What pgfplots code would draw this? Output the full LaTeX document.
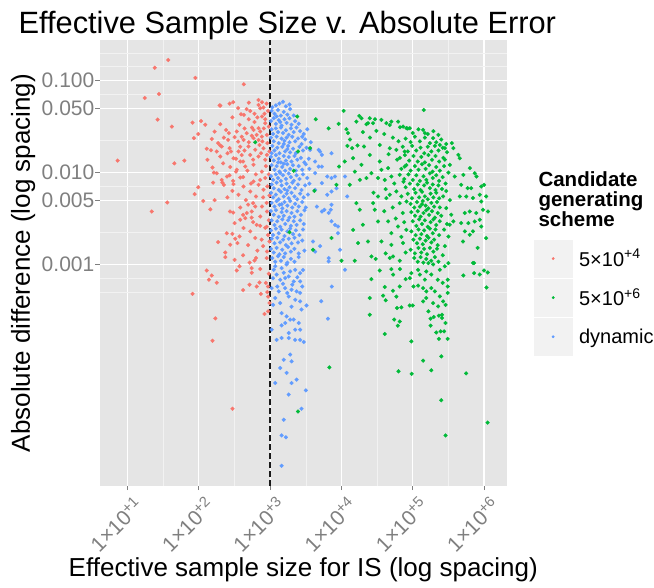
\documentclass[border=0pt]{standalone}
\usepackage{fontspec}
\setmainfont{Liberation Sans}
\usepackage{pgfplots}
\pgfplotsset{compat=1.18}
\definecolor{gred}{HTML}{F8766D}
\definecolor{ggreen}{HTML}{00BA38}
\definecolor{gblue}{HTML}{619CFF}
\definecolor{grey90}{HTML}{E5E5E5}
\definecolor{grey95}{HTML}{F2F2F2}
\definecolor{grey50}{HTML}{7F7F7F}
\begin{document}
\begin{tikzpicture}
\useasboundingbox (0pt,0pt) rectangle (654pt,587pt);
\begin{axis}[
  at={(100pt,101.3pt)}, anchor=south west,
  scale only axis, width=406.7pt, height=445.7pt,
  xmin=0.612, xmax=6.318, ymin=-5.407, ymax=-0.558,
  axis background/.style={fill=grey90},
  axis line style={draw=none},
  tick align=outside, tick pos=left,
  major tick length=4.5pt, minor tick length=0pt,
  tick style={grey50, line width=0.9pt},
  grid=both,
  major grid style={white, line width=1.1pt},
  minor grid style={grey95, line width=0.55pt},
  xtick={1,2,3,4,5,6},
  xticklabels={1×10\textsuperscript{+1},1×10\textsuperscript{+2},1×10\textsuperscript{+3},1×10\textsuperscript{+4},1×10\textsuperscript{+5},1×10\textsuperscript{+6}},
  minor xtick={1.5,2.5,3.5,4.5,5.5},
  ytick={-3,-2.30103,-2,-1.30103,-1},
  yticklabels={0.001,0.005,0.010,0.050,0.100},
  minor ytick={-0.699,-0.849,-1.1505,-1.6505,-2.1505,-2.6505,-3.1505,-3.301},
  xticklabel style={xshift=5pt, yshift=-3pt, rotate=45, anchor=north east, font=\fontsize{21}{21}\selectfont, text=grey50, inner sep=1pt},
  yticklabel style={anchor=east, font=\fontsize{21}{21}\selectfont, text=grey50, inner sep=1pt},
  legend style={at={(1.0679,0.5513)}, anchor=north west, draw=none, fill=none, inner sep=0pt, outer sep=0pt,
    row sep=2pt, column sep=7pt, font=\fontsize{20}{20}\selectfont, nodes={inner sep=0pt}},
  legend cell align=left,
  legend image code/.code={%
    \fill[grey95] (0pt,-18.35pt) rectangle (37.4pt,18.35pt);
    \draw plot coordinates {(18.7pt,0pt)};
  },
]
% 5x10^4 (red)
\addplot[only marks, mark=*, mark size=1.9pt, gred, mark options={line width=0.3pt}, forget plot] coordinates {
(0.86,-1.87) (1.24,-1.19) (1.38,-0.86) (1.44,-1.145) (1.57,-0.775) (1.42,-1.424) (1.62,-1.5) (1.655,-1.9) (1.795,-1.87) (1.337,-2.424) (1.556,-2.326) (1.95,-0.97) (1.91,-1.457) (2.03,-1.44) (2.09,-1.48) (1.99,-1.58) (1.93,-1.626) (2.63,-1.04) (2.29,-1.27) (2.43,-1.25) (2.48,-1.235) (2.59,-1.365) (2.63,-1.373) (2.57,-1.48) (2.22,-1.554) (2.38,-1.536) (2.42,-1.572) (2.50,-1.615) (2.55,-1.663) (2.60,-1.61) (2.18,-1.634) (2.27,-1.68) (2.30,-1.706) (2.41,-1.645) (2.43,-1.735) (2.11,-1.742) (2.17,-1.757) (2.25,-1.772) (2.40,-1.79) (2.45,-1.772) (2.60,-1.81) (2.12,-1.862) (2.19,-1.946) (2.21,-2.0) (2.32,-2.08) (2.33,-2.11) (2.20,-2.11) (2.48,-2.09) (2.43,-2.03) (2.58,-2.054) (2.58,-1.88) (2.62,-1.88) (2.52,-1.99)
(2.435,-2.424) (2.48,-2.435) (2.16,-2.40) (2.06,-2.31) (1.94,-2.235) (1.99,-2.16) (2.22,-2.30)
(2.39,-2.66) (2.47,-2.667) (2.27,-2.757) (2.37,-2.87) (2.37,-2.92) (2.54,-2.767) (2.57,-2.695) (2.57,-3.02) (2.71,-2.98) (2.80,-2.93) (2.76,-2.54) (2.81,-2.57) (2.74,-2.424) (2.67,-2.44) (2.69,-2.35) (2.76,-2.333) (1.91,-3.32) (2.62,-3.28) (2.71,-3.22) (2.88,-2.73) (2.90,-2.80) (2.95,-2.59)
(2.11,-3.065) (2.18,-3.12) (2.14,-3.166) (2.25,-3.20) (2.23,-3.587) (2.19,-3.83) (2.47,-4.57) (2.53,-3.065) (2.78,-2.957) (2.74,-3.09) (2.74,-3.04) (2.85,-3.196) (2.81,-3.24) (2.87,-3.32) (2.94,-3.20) (2.97,-3.24) (2.92,-3.54) (2.97,-3.51) (2.97,-3.35)
(2.836,-1.21) (2.884,-1.235) (2.30,-1.272) (2.836,-1.264) (2.67,-1.31) (2.72,-1.33) (2.86,-1.30) (2.906,-1.293) (2.884,-1.39) (2.30,-1.474) (2.744,-1.511) (2.766,-1.536) (2.836,-1.517) (2.86,-1.554) (2.93,-1.463) (2.53,-1.554) (2.67,-1.572) (2.81,-1.59) (2.884,-1.609) (2.954,-1.59) (2.766,-1.626) (2.836,-1.645) (2.32,-1.717) (2.626,-1.645) (2.555,-1.772) (2.696,-1.717) (2.79,-1.753) (2.906,-1.735) (2.954,-1.808) (2.30,-1.826) (2.485,-1.844) (2.836,-1.826) (2.72,-1.808) (2.25,-2.007) (2.393,-2.043) (2.53,-1.97) (2.65,-1.935) (2.766,-1.916) (2.884,-1.99) (2.93,-2.06) (2.35,-2.134) (2.485,-2.126) (2.626,-2.152) (2.766,-2.098) (2.836,-2.134) (2.906,-2.188) (2.555,-2.242) (2.72,-2.206) (2.79,-2.37) (2.884,-2.37) (2.58,-2.514) (2.65,-2.496) (2.86,-2.478) (2.954,-2.424) (2.51,-2.72) (2.626,-2.604) (2.72,-2.64) (2.44,-2.786) (2.954,-2.859) (2.79,-2.713)
(2.95,-1.25) (2.97,-1.33) (2.93,-1.42) (2.98,-1.50) (2.96,-1.68) (2.99,-1.77) (2.94,-1.93) (2.98,-2.02) (2.96,-2.15) (2.99,-2.25) (2.95,-2.33) (2.98,-2.52) (2.93,-2.60) (2.97,-2.68) (2.99,-2.75) (2.95,-2.93) (2.98,-3.1) (2.96,-3.3) (2.99,-3.42)
(2.70,-1.42) (2.78,-1.45) (2.82,-1.40) (2.91,-1.52) (2.64,-1.52) (2.74,-1.60) (2.89,-1.66) (2.70,-1.67) (2.58,-1.72) (2.85,-1.70) (2.93,-1.86) (2.76,-1.86) (2.68,-1.98) (2.80,-2.02) (2.86,-2.08) (2.62,-2.05) (2.73,-2.12) (2.90,-2.27) (2.80,-2.26) (2.66,-2.30) (2.58,-2.38) (2.47,-2.20) (2.40,-2.27) (2.62,-2.46) (2.86,-2.58) (2.69,-2.79) (2.82,-2.85) (2.62,-2.90) (2.50,-2.95) (2.86,-3.05) (2.44,-1.94) (2.34,-1.90) (2.52,-1.85) (2.64,-1.76) (2.78,-1.36) (2.92,-1.36) (2.70,-1.24) (2.55,-1.30) (2.47,-1.40) (2.35,-1.62) (2.87,-1.79) (2.74,-2.49) (2.50,-2.55)
};
% dynamic (blue)
\addplot[only marks, mark=*, mark size=1.9pt, gblue, mark options={line width=0.3pt}, forget plot] coordinates {
(3.18,-1.23) (3.08,-1.27) (3.13,-1.25) (3.22,-1.28) (3.03,-1.29) (3.27,-1.26)
(3.02,-1.33) (3.06,-1.36) (3.11,-1.32) (3.15,-1.38) (3.19,-1.34) (3.24,-1.37) (3.28,-1.31) (3.09,-1.39) (3.33,-1.38)
(3.01,-1.44) (3.05,-1.41) (3.08,-1.47) (3.12,-1.43) (3.16,-1.49) (3.20,-1.42) (3.23,-1.46) (3.27,-1.41) (3.30,-1.48) (3.35,-1.44) (3.40,-1.47) (3.14,-1.45)
(3.02,-1.53) (3.04,-1.58) (3.08,-1.52) (3.11,-1.56) (3.15,-1.51) (3.18,-1.57) (3.22,-1.54) (3.26,-1.59) (3.29,-1.52) (3.33,-1.56) (3.37,-1.51) (3.42,-1.55) (3.47,-1.58) (3.52,-1.53)
(3.01,-1.62) (3.05,-1.66) (3.09,-1.61) (3.12,-1.68) (3.16,-1.63) (3.19,-1.69) (3.23,-1.62) (3.27,-1.67) (3.31,-1.61) (3.35,-1.66) (3.39,-1.63) (3.44,-1.69) (3.49,-1.64) (3.57,-1.67) (3.20,-1.655)
(3.03,-1.71) (3.06,-1.76) (3.10,-1.73) (3.13,-1.79) (3.17,-1.72) (3.21,-1.77) (3.25,-1.71) (3.28,-1.78) (3.32,-1.74) (3.36,-1.79) (3.41,-1.72) (3.46,-1.76) (3.51,-1.73) (3.02,-1.79) (3.24,-1.745)
(3.01,-1.83) (3.05,-1.87) (3.08,-1.81) (3.12,-1.85) (3.15,-1.89) (3.19,-1.82) (3.22,-1.87) (3.26,-1.83) (3.30,-1.88) (3.34,-1.82) (3.38,-1.86) (3.43,-1.84) (3.48,-1.89) (3.54,-1.85) (3.11,-1.89)
(3.02,-1.92) (3.06,-1.97) (3.09,-1.93) (3.13,-1.99) (3.17,-1.94) (3.21,-1.98) (3.24,-1.91) (3.28,-1.96) (3.32,-1.92) (3.36,-1.98) (3.40,-1.93) (3.45,-1.97) (3.50,-1.91) (3.55,-1.96) (3.19,-1.905)
(3.01,-2.04) (3.04,-2.08) (3.08,-2.02) (3.11,-2.06) (3.15,-2.09) (3.18,-2.03) (3.22,-2.07) (3.26,-2.01) (3.29,-2.05) (3.33,-2.09) (3.37,-2.03) (3.41,-2.07) (3.46,-2.02) (3.52,-2.06) (3.14,-2.005)
(3.02,-2.13) (3.05,-2.17) (3.09,-2.11) (3.12,-2.19) (3.16,-2.14) (3.20,-2.18) (3.23,-2.12) (3.27,-2.16) (3.31,-2.11) (3.35,-2.17) (3.39,-2.13) (3.44,-2.19) (3.49,-2.14) (3.55,-2.12) (3.24,-2.195)
(3.01,-2.22) (3.04,-2.27) (3.08,-2.24) (3.12,-2.29) (3.15,-2.21) (3.19,-2.26) (3.23,-2.23) (3.26,-2.28) (3.30,-2.22) (3.34,-2.26) (3.38,-2.29) (3.42,-2.23) (3.47,-2.27) (3.53,-2.24)
(3.02,-2.33) (3.06,-2.37) (3.09,-2.31) (3.13,-2.35) (3.17,-2.39) (3.20,-2.32) (3.24,-2.36) (3.28,-2.31) (3.31,-2.38) (3.35,-2.34) (3.40,-2.37) (3.45,-2.32) (3.50,-2.38) (3.16,-2.345)
(3.01,-2.42) (3.05,-2.46) (3.08,-2.41) (3.12,-2.48) (3.16,-2.43) (3.19,-2.47) (3.23,-2.42) (3.27,-2.49) (3.30,-2.44) (3.34,-2.48) (3.38,-2.42) (3.43,-2.46) (3.48,-2.41)
(3.02,-2.52) (3.06,-2.57) (3.10,-2.53) (3.14,-2.59) (3.17,-2.51) (3.21,-2.56) (3.25,-2.52) (3.29,-2.58) (3.33,-2.53) (3.37,-2.57) (3.42,-2.52) (3.47,-2.56)
(3.01,-2.63) (3.04,-2.68) (3.08,-2.61) (3.12,-2.66) (3.16,-2.62) (3.20,-2.69) (3.24,-2.64) (3.28,-2.61) (3.32,-2.67) (3.36,-2.63) (3.41,-2.68) (3.46,-2.62)
(3.02,-2.72) (3.06,-2.77) (3.10,-2.71) (3.14,-2.76) (3.18,-2.73) (3.22,-2.79) (3.26,-2.72) (3.30,-2.77) (3.34,-2.71) (3.39,-2.76) (3.45,-2.74)
(3.01,-2.83) (3.05,-2.87) (3.09,-2.82) (3.13,-2.89) (3.17,-2.84) (3.21,-2.88) (3.25,-2.81) (3.29,-2.86) (3.34,-2.83) (3.40,-2.88) (3.48,-2.85)
(3.03,-2.93) (3.07,-2.97) (3.11,-2.91) (3.15,-2.96) (3.19,-2.92) (3.24,-2.98) (3.29,-2.94) (3.34,-2.97) (3.40,-2.92)
(3.56,-1.753) (3.70,-1.772) (3.86,-1.79) (3.68,-1.935) (3.63,-2.007) (3.80,-2.043) (3.86,-2.06) (3.93,-2.17) (4.05,-2.043) (4.08,-2.26) (3.725,-2.424) (3.82,-2.44) (3.86,-2.53) (3.91,-2.57) (3.95,-2.66) (3.98,-2.84) (3.82,-2.967) (4.05,-3.058) (3.865,-3.24) (3.63,-2.188) (3.655,-2.37) (3.60,-2.75) (3.63,-2.86) (3.68,-1.753) (3.725,-1.808) (3.63,-1.88) (3.725,-1.935) (3.91,-2.043) (3.725,-2.115) (3.86,-2.206) (3.80,-2.242) (3.86,-2.35) (3.76,-2.405) (3.85,-2.405) (3.95,-2.587) (3.70,-2.80) (3.82,-2.93) (3.45,-1.61) (3.715,-3.40) (3.81,-3.59)
(3.05,-3.058) (3.09,-3.11) (3.16,-3.04) (3.23,-3.0) (3.28,-3.076) (3.35,-3.058) (3.42,-3.094) (3.14,-3.166) (3.21,-3.148) (3.33,-3.185) (3.42,-3.185) (3.02,-3.257) (3.12,-3.293) (3.21,-3.257) (3.30,-3.275) (3.37,-3.293) (3.42,-3.31) (3.07,-3.365) (3.14,-3.42) (3.26,-3.348) (3.35,-3.384) (3.42,-3.402) (3.51,-3.446) (3.16,-3.53) (3.23,-3.565) (3.28,-3.60) (3.21,-3.637) (3.33,-3.60) (3.40,-3.637) (3.44,-3.49) (3.02,-3.71) (3.16,-3.663) (3.26,-3.746) (3.35,-3.71) (3.42,-3.71) (3.09,-3.82) (3.16,-3.80) (3.26,-3.80) (3.35,-3.82) (3.42,-3.82) (3.47,-3.844) (3.28,-3.98) (3.19,-4.036) (3.30,-4.054) (3.14,-4.126) (3.23,-4.18) (3.07,-4.29) (3.30,-4.29) (3.37,-4.253) (3.26,-4.416) (3.50,-4.37) (3.44,-4.57) (3.19,-4.69) (3.16,-4.86) (3.22,-4.88) (3.16,-5.19)
(3.07,-3.02) (3.19,-3.09) (3.26,-3.13) (3.38,-3.14) (3.46,-3.06) (3.04,-3.15) (3.31,-3.22) (3.18,-3.21) (3.10,-3.24) (3.45,-3.24) (3.24,-3.31) (3.04,-3.44) (3.30,-3.46)
};
% 5x10^6 (green)
\addplot[only marks, mark=*, mark size=1.9pt, ggreen, mark options={line width=0.3pt}, forget plot] coordinates {
(2.79,-1.67) (3.38,-1.39) (3.56,-1.735) (3.39,-1.77) (3.33,-1.98) (3.62,-2.2) (3.27,-2.65) (3.60,-2.84) (3.39,-4.6) (3.83,-4.12)
(3.64,-1.42) (3.82,-1.52) (3.96,-1.47) (4.03,-1.33) (4.07,-1.528) (4.09,-1.57) (4.25,-1.384) (4.21,-1.446) (4.28,-1.409) (4.35,-1.474) (4.397,-1.409) (4.443,-1.463) (4.49,-1.547) (4.56,-1.427) (4.63,-1.463) (4.677,-1.482) (4.794,-1.446) (4.864,-1.50) (4.911,-1.517) (4.47,-1.42) (4.70,-1.446) (4.82,-1.507) (4.373,-1.463)
(4.084,-1.71) (4.15,-1.735) (4.224,-1.706) (4.317,-1.717) (4.537,-1.70) (4.677,-1.735) (4.77,-1.753) (4.887,-1.772) (4.046,-1.88) (4.163,-1.844) (4.28,-1.916) (4.397,-1.808) (4.537,-1.88) (4.56,-1.97) (4.654,-1.952) (4.70,-2.043) (4.817,-2.025) (4.887,-1.935) (3.93,-2.134) (3.966,-1.935) (4.116,-2.134) (4.187,-1.99) (4.257,-2.08) (4.35,-2.06) (4.42,-2.007) (4.513,-2.06) (4.607,-2.08) (4.77,-2.206) (4.84,-2.26) (4.21,-2.333) (4.257,-2.405) (4.443,-2.333) (4.467,-2.405) (4.513,-2.26) (4.63,-2.278) (4.677,-2.242) (4.817,-2.333) (4.911,-2.315) (4.163,-2.623) (4.30,-2.568) (4.513,-2.532) (4.654,-2.532) (4.794,-2.587) (4.91,-2.623) (4.233,-2.767) (4.373,-2.75) (4.56,-2.75) (4.70,-2.786) (4.864,-2.767) (3.86,-2.713) (4.0,-2.96) (4.187,-2.96) (4.42,-2.913) (4.677,-2.93)
(4.60,-1.58) (4.72,-1.62) (4.80,-1.66) (4.66,-1.80) (4.78,-1.86) (4.74,-2.12) (4.87,-2.10) (4.62,-2.18) (4.72,-2.38) (4.86,-2.44) (4.60,-2.42) (4.76,-2.50) (4.88,-2.54) (4.70,-2.66) (4.84,-2.70) (4.62,-2.88) (4.90,-2.87) (4.82,-3.05) (4.90,-3.16) (4.45,-2.22) (4.40,-1.62) (4.30,-1.56) (4.12,-1.64)
(4.48,-2.94) (4.724,-2.913) (4.817,-2.96) (4.537,-3.065) (4.70,-3.05) (4.724,-3.11) (4.42,-3.16) (4.607,-3.245) (4.724,-3.286) (4.817,-3.24) (4.397,-3.365) (4.584,-3.34) (4.62,-3.39) (4.77,-3.35) (4.397,-3.547) (4.78,-3.474) (4.84,-3.467) (4.957,-3.446) (5.0,-3.446) (4.74,-3.60) (4.817,-3.62) (4.79,-3.666) (4.607,-3.757) (4.98,-3.837) (5.145,-4.047) (5.26,-4.152) (4.80,-4.163) (4.985,-4.19) (5.40,-4.0) (5.75,-4.185) (5.40,-4.478) (5.46,-4.86) (6.05,-4.72) (5.71,-3.12) (5.86,-3.094) (5.94,-3.11) (6.0,-3.065) (6.053,-3.087) (5.86,-2.985) (6.035,-3.25) (5.22,-3.51) (5.25,-3.59) (5.295,-3.572) (5.366,-3.557) (5.41,-3.547) (5.46,-3.637) (5.39,-3.728) (5.44,-3.728) (5.49,-3.81) (5.33,-3.74) (5.366,-3.81) (5.25,-3.666) (5.41,-3.583)
(4.96,-3.148) (4.98,-3.094) (5.075,-3.058) (5.10,-3.11) (5.17,-3.166) (5.01,-3.24) (5.075,-3.23) (5.146,-3.257) (5.19,-3.293) (5.26,-3.257) (5.31,-3.293) (5.38,-3.348) (5.426,-3.402) (5.19,-3.365) (5.146,-3.402) (5.286,-3.42) (5.356,-3.457) (5.46,-3.44) (5.49,-3.31) (5.49,-3.24) (5.49,-3.166) (5.42,-3.20) (5.35,-3.166) (5.26,-3.11) (5.19,-3.076) (5.38,-3.058) (5.45,-3.02) (5.50,-2.985) (5.286,-3.0) (5.22,-2.985)
(5.154,-1.319) (5.17,-1.572) (5.38,-1.70) (5.45,-1.735)
(4.93,-1.52) (5.00,-1.57) (5.08,-1.53) (5.146,-1.536) (5.21,-1.58) (5.29,-1.55) (5.36,-1.59) (4.958,-1.517)
(4.90,-1.63) (4.97,-1.67) (5.03,-1.61) (5.10,-1.66) (5.17,-1.62) (5.24,-1.68) (5.286,-1.626) (5.33,-1.67) (5.40,-1.64) (5.47,-1.69) (5.55,-1.68)
(4.86,-1.72) (4.93,-1.77) (4.99,-1.71) (5.05,-1.76) (5.11,-1.73) (5.16,-1.79) (5.21,-1.72) (5.26,-1.77) (5.31,-1.71) (5.36,-1.76) (5.42,-1.73) (5.48,-1.78) (5.57,-1.735)
(4.82,-1.84) (4.89,-1.81) (4.95,-1.87) (5.01,-1.82) (5.07,-1.88) (5.12,-1.83) (5.17,-1.89) (5.22,-1.81) (5.27,-1.86) (5.32,-1.82) (5.37,-1.88) (5.43,-1.84) (5.64,-1.808) (5.66,-1.844)
(4.84,-1.96) (4.91,-1.92) (4.97,-1.98) (5.03,-1.93) (5.08,-1.97) (5.13,-1.91) (5.18,-1.96) (5.23,-1.92) (5.28,-1.99) (5.33,-1.94) (5.38,-1.98) (5.44,-1.93) (5.52,-1.916) (5.80,-1.952)
(4.88,-2.07) (4.94,-2.02) (5.00,-2.08) (5.05,-2.03) (5.10,-2.09) (5.15,-2.04) (5.19,-2.08) (5.24,-2.01) (5.28,-2.06) (5.33,-2.03) (5.37,-2.09) (5.42,-2.05) (5.59,-2.043) (5.71,-2.025) (5.87,-2.007) (5.894,-2.043)
(4.90,-2.16) (4.96,-2.12) (5.02,-2.18) (5.07,-2.13) (5.11,-2.19) (5.16,-2.14) (5.20,-2.11) (5.24,-2.17) (5.28,-2.13) (5.32,-2.19) (5.36,-2.14) (5.41,-2.18) (5.46,-2.12) (5.68,-2.134) (5.77,-2.17) (5.82,-2.17) (5.96,-2.152) (6.0,-2.134)
(4.93,-2.23) (4.99,-2.28) (5.04,-2.22) (5.09,-2.27) (5.13,-2.21) (5.17,-2.26) (5.21,-2.29) (5.25,-2.23) (5.29,-2.27) (5.33,-2.22) (5.37,-2.28) (5.426,-2.26) (5.66,-2.26) (5.75,-2.26) (5.845,-2.278) (5.94,-2.242) (6.03,-2.26)
(4.97,-2.34) (5.02,-2.38) (5.06,-2.32) (5.10,-2.37) (5.14,-2.31) (5.18,-2.36) (5.22,-2.39) (5.26,-2.33) (5.30,-2.37) (5.34,-2.32) (5.38,-2.38) (5.47,-2.387) (5.96,-2.315) (5.13,-2.345)
(4.98,-2.43) (5.03,-2.47) (5.07,-2.42) (5.11,-2.48) (5.15,-2.44) (5.19,-2.41) (5.23,-2.46) (5.27,-2.42) (5.31,-2.49) (5.35,-2.44) (5.40,-2.47) (5.54,-2.46) (5.73,-2.44) (5.80,-2.424) (5.89,-2.44) (5.985,-2.405) (6.055,-2.424)
(5.00,-2.53) (5.05,-2.58) (5.09,-2.51) (5.13,-2.56) (5.17,-2.52) (5.21,-2.59) (5.25,-2.54) (5.29,-2.51) (5.33,-2.57) (5.38,-2.53) (5.52,-2.568) (5.57,-2.532) (5.68,-2.55) (5.78,-2.55) (5.87,-2.532) (5.94,-2.514) (5.96,-2.587)
(4.98,-2.64) (5.04,-2.68) (5.08,-2.62) (5.12,-2.67) (5.16,-2.63) (5.20,-2.69) (5.24,-2.61) (5.28,-2.66) (5.32,-2.62) (5.37,-2.68) (5.50,-2.696) (5.73,-2.64) (5.80,-2.677) (5.845,-2.64)
(5.01,-2.73) (5.06,-2.77) (5.10,-2.72) (5.14,-2.78) (5.18,-2.74) (5.22,-2.71) (5.26,-2.76) (5.30,-2.73) (5.35,-2.79) (5.705,-2.75) (6.03,-2.713)
(4.97,-2.84) (5.03,-2.88) (5.08,-2.82) (5.12,-2.87) (5.16,-2.83) (5.20,-2.89) (5.24,-2.82) (5.29,-2.86) (5.34,-2.83) (5.91,-2.82)
(5.02,-2.93) (5.07,-2.97) (5.11,-2.92) (5.15,-2.98) (5.19,-2.94) (5.26,-2.96) (5.31,-2.92) (5.36,-2.97) (5.845,-2.985)
(5.45,-1.86) (5.50,-2.00) (5.47,-2.20) (5.52,-2.30) (5.48,-2.56) (5.44,-2.62) (5.45,-2.80) (5.42,-2.90)
};
\addplot[black!90, line width=1.6pt, dash pattern=on 6pt off 3pt, forget plot] coordinates {(3,-5.407) (3,-0.558)};
\addlegendimage{only marks, mark=*, mark size=1.2pt, gred}
\addlegendentry{5×10\textsuperscript{+4}}
\addlegendimage{only marks, mark=*, mark size=1.2pt, ggreen}
\addlegendentry{5×10\textsuperscript{+6}}
\addlegendimage{only marks, mark=*, mark size=1.2pt, gblue}
\addlegendentry{dynamic}
\end{axis}
\node[anchor=base west, font=\fontsize{30.8}{31}\selectfont] at (15pt,553pt) {Effective Sample Size v. Absolute Error};
\node[anchor=base, font=\fontsize{26}{26}\selectfont] at (303.3pt,10pt) {Effective sample size for IS (log spacing)};
\node[anchor=base, rotate=90, font=\fontsize{26}{26}\selectfont] at (30pt,324pt) {Absolute difference (log spacing)};
\node[anchor=base west, font=\bfseries\fontsize{20.5}{20.5}\selectfont] at (535pt,400pt) {Candidate};
\node[anchor=base west, font=\bfseries\fontsize{20.5}{20.5}\selectfont] at (535pt,380pt) {generating};
\node[anchor=base west, font=\bfseries\fontsize{20.5}{20.5}\selectfont] at (535pt,360pt) {scheme};
\end{tikzpicture}
\end{document}
